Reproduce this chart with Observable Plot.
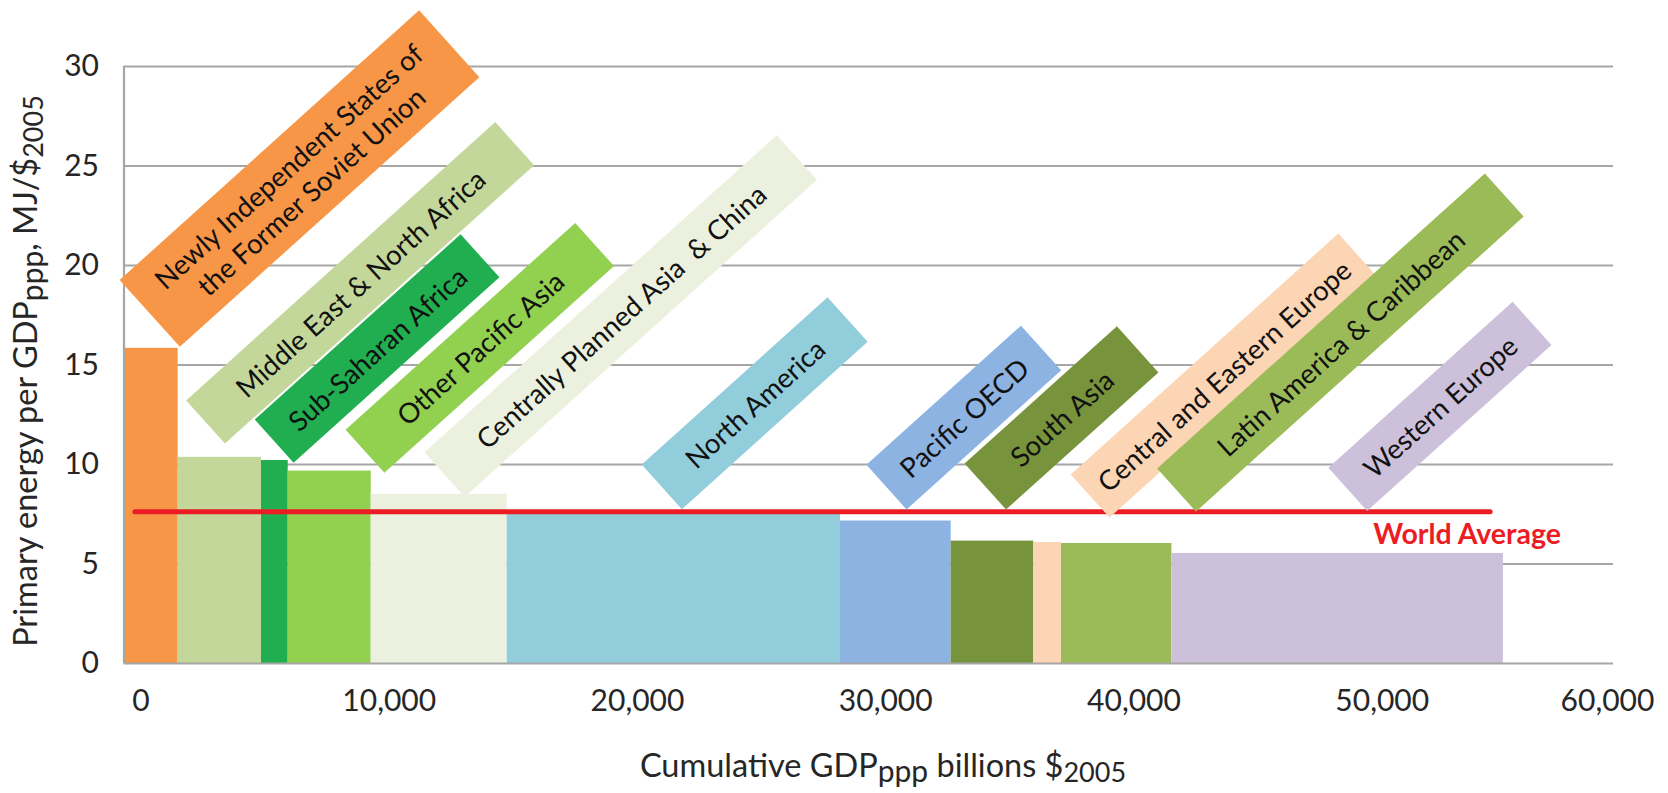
<!DOCTYPE html>
<html>
<head>
<meta charset="utf-8">
<script src="https://cdn.jsdelivr.net/npm/d3@7"></script>
<script src="https://cdn.jsdelivr.net/npm/@observablehq/plot@0.6"></script>
<style>
  html, body { margin: 0; padding: 0; background: #ffffff; }
  #chart svg text { white-space: pre; }
</style>
</head>
<body>
<div id="chart"></div>
<script>
// ---- data ----
const regions = ["Newly Independent States of the Former Soviet Union", "Middle East & North Africa", "Sub-Saharan Africa", "Other Pacific Asia", "Centrally Planned Asia & China", "North America", "Pacific OECD", "South Asia", "Central and Eastern Europe", "Latin America & Caribbean", "Western Europe"];
const gdp = [2183, 3356, 1075, 3344, 5478, 13426, 4459, 3327, 1116, 4448, 13353]; // billions $2005 (bar widths)
const intensity = [15.84, 10.36, 10.2, 9.67, 8.5, 7.5, 7.16, 6.15, 6.08, 6.03, 5.53]; // MJ/$2005
const colors = ["#f79646", "#c4d79b", "#20ae50", "#92d050", "#ebf1de", "#92cddc", "#8db3e2", "#77933c", "#fcd5b4", "#9bbb59", "#ccc0da"];
const worldAverage = 7.62;
const worldAverageSpan = [460, 55050];
const xTicks = [0, 10000, 20000, 30000, 40000, 50000, 60000];
const yTicks = [0, 5, 10, 15, 20, 25, 30];

// annotation labels (anchored in data units)
const labelText = ["Newly Independent States of\nthe Former Soviet Union", "Middle East & North Africa", "Sub-Saharan Africa", "Other Pacific Asia", "Centrally Planned Asia  & China", "North America", "Pacific OECD", "South Asia", "Central and Eastern Europe", "Latin America & Caribbean", "Western Europe"];
const labelX = [7069, 9511, 10195, 14332, 20008, 25406, 33829, 37764, 44306, 48999, 53007];
const labelY = [24.37, 19.13, 15.83, 15.86, 17.46, 13.08, 12.36, 12.34, 14.47, 16.13, 12.92];
const boxLen = [403, 416, 277, 309, 474, 250, 208, 205, 360, 441, 248];
const boxWid = [90, 58, 58, 58, 60, 60, 60, 62, 58, 58, 58];

// ---- build tables ----
const ends = Array.from(d3.cumsum(gdp));
const bars = regions.map((r, i) => ({
  region: r, x1: ends[i] - gdp[i], x2: ends[i], y: intensity[i], color: colors[i]
}));
const labels = labelText.map((t, i) => ({ text: t, x: labelX[i], y: labelY[i], color: colors[i], len: boxLen[i], wid: boxWid[i] }));

const gridColor = "#a6a6a6";
const textColor = "#262626";
const red = "#ec1c24";

const chart = Plot.plot({
  width: 1668,
  height: 793,
  marginLeft: 123.5,
  marginRight: 55,
  marginTop: 66,
  marginBottom: 130,
  style: { fontFamily: "Lato, sans-serif", background: "#ffffff", color: textColor },
  x: { domain: [0, 60000] },
  y: { domain: [0, 30] },
  color: { type: "identity" },
  marks: [
    Plot.ruleY(yTicks.filter(d => d > 0), { stroke: gridColor, strokeWidth: 2.2 }),
    Plot.rect(bars, { x1: "x1", x2: "x2", y1: 0, y2: "y", fill: "color" }),
    Plot.ruleY([0], { stroke: gridColor, strokeWidth: 2.2 }),
    Plot.ruleX([0], { y1: 0, y2: 30, stroke: gridColor, strokeWidth: 2.2 }),
    Plot.ruleY([worldAverage], { x1: worldAverageSpan[0], x2: worldAverageSpan[1], stroke: red, strokeWidth: 5, strokeLinecap: "round" }),
    Plot.text(labels, {
      x: "x", y: "y", text: "text", rotate: -42,
      textAnchor: "middle", lineAnchor: "middle", lineHeight: 1.22,
      fontSize: 27.5, fill: "#111111", className: "boxlabels"
    }),
    Plot.text(["World Average"], {
      x: 50320, y: 6.0, text: d => d, textAnchor: "start", lineAnchor: "bottom",
      fontSize: 28.5, fontWeight: "bold", fill: red
    }),
    Plot.axisX(xTicks.slice(0, -1), { tickSize: 0, tickPadding: 26, fontSize: 30, dx: 17, tickFormat: d3.format(","), label: null, fill: textColor }),
    Plot.axisX(xTicks.slice(-1), { tickSize: 0, tickPadding: 26, fontSize: 30, dx: -6, tickFormat: d3.format(","), label: null, fill: textColor }),
    Plot.axisY(yTicks, { tickSize: 0, tickPadding: 25, fontSize: 30, label: null, fill: textColor })
  ]
});

document.getElementById("chart").appendChild(chart);

// boxes behind the rotated labels
const svg = d3.select(chart);
svg.selectAll("g.boxlabels text").each(function(d, k) {
  const lab = labels[k];
  const t = d3.select(this);
  const parent = this.parentNode;
  const rect = document.createElementNS("http://www.w3.org/2000/svg", "rect");
  rect.setAttribute("transform", t.attr("transform"));
  rect.setAttribute("x", -lab.len / 2);
  rect.setAttribute("y", -lab.wid / 2);
  rect.setAttribute("width", lab.len);
  rect.setAttribute("height", lab.wid);
  rect.setAttribute("fill", lab.color);
  rect.setAttribute("stroke", "none");
  parent.insertBefore(rect, this);
});

// axis titles with subscripts
const yTitle = svg.append("text")
  .attr("transform", "translate(37,371) rotate(-90)")
  .attr("text-anchor", "middle")
  .attr("font-family", "Lato, sans-serif")
  .attr("font-size", 32.5)
  .attr("fill", textColor);
yTitle.append("tspan").text("Primary energy per GDP");
yTitle.append("tspan").attr("dy", 6).attr("font-size", 30).text("ppp");
yTitle.append("tspan").attr("dy", -6).text(", MJ/$");
yTitle.append("tspan").attr("dy", 6).attr("font-size", 27).text("2005");

const xTitle = svg.append("text")
  .attr("x", 883)
  .attr("y", 777)
  .attr("text-anchor", "middle")
  .attr("font-family", "Lato, sans-serif")
  .attr("font-size", 32.5)
  .attr("fill", textColor);
xTitle.append("tspan").text("Cumulative GDP");
xTitle.append("tspan").attr("dy", 5).attr("font-size", 30).text("ppp");
xTitle.append("tspan").attr("dy", -5).text(" billions $");
xTitle.append("tspan").attr("dy", 5).attr("font-size", 27).text("2005");
</script>
</body>
</html>
